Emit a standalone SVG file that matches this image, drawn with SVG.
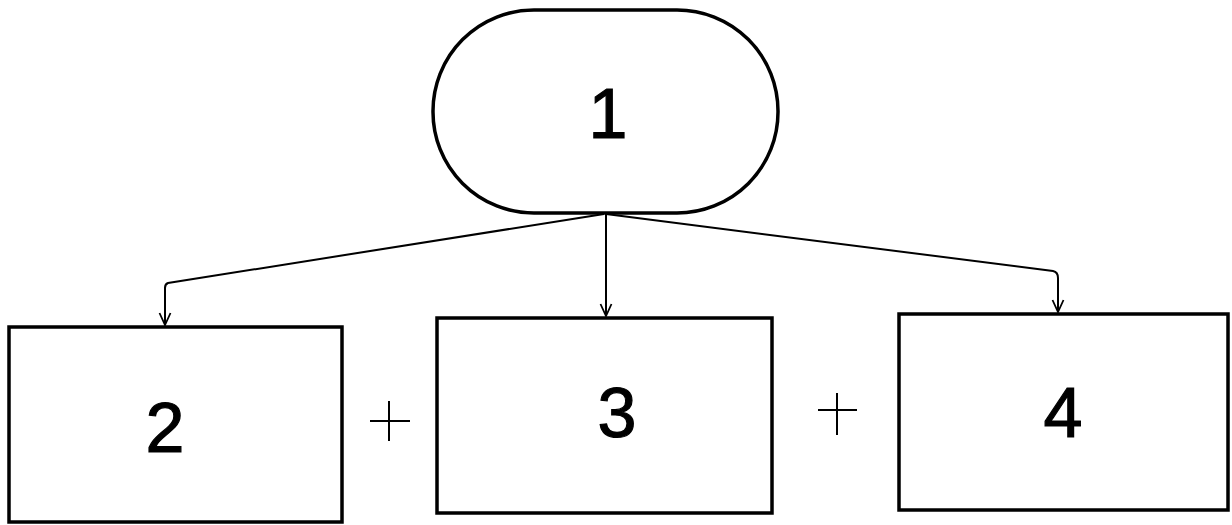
<svg xmlns="http://www.w3.org/2000/svg" width="1232" height="525" viewBox="0 0 1232 525">
<style>
.box{fill:#fff;stroke:#000;stroke-width:3.5}
.lbl{font-family:"Liberation Sans",Arial,sans-serif;font-size:70px;fill:#000;stroke:#000;stroke-width:1.2;text-anchor:middle;dominant-baseline:central}
.con{fill:none;stroke:#000;stroke-width:2}
.plus{stroke:#000;stroke-width:2}
</style>
<defs>
<marker id="arr" viewBox="0 0 14 14" refX="13" refY="7" markerWidth="14" markerHeight="14" markerUnits="userSpaceOnUse" orient="auto">
<path d="M1,1.5 L13,7 L1,12.5" fill="none" stroke="#000" stroke-width="1.8"/>
</marker>
</defs>
<rect width="1232" height="525" fill="#fff"/>
<g id="connectors">
<path class="con" d="M604,214 L168,283 Q165,284 165,288 L165,325" marker-end="url(#arr)"/>
<path class="con" d="M606,214 L606,316" marker-end="url(#arr)"/>
<path class="con" d="M606,214 L1053,271 Q1058,272 1058,278 L1058,312" marker-end="url(#arr)"/>
</g>
<g id="node1">
<rect class="box" x="433" y="10" width="345" height="203" rx="101" ry="101"/>
<text class="lbl" x="608" y="114">1</text>
</g>
<g id="node2">
<rect class="box" x="9" y="327" width="333" height="195"/>
<text class="lbl" x="165" y="428">2</text>
</g>
<g id="plus1">
<line class="plus" x1="370" y1="421" x2="410" y2="421"/>
<line class="plus" x1="389" y1="401" x2="389" y2="441"/>
</g>
<g id="node3">
<rect class="box" x="437" y="318" width="335" height="195"/>
<text class="lbl" x="617" y="413">3</text>
</g>
<g id="plus2">
<line class="plus" x1="818" y1="410" x2="857" y2="410"/>
<line class="plus" x1="837" y1="393" x2="837" y2="435"/>
</g>
<g id="node4">
<rect class="box" x="899" y="314" width="329" height="196"/>
<text class="lbl" x="1063" y="413">4</text>
</g>
</svg>
